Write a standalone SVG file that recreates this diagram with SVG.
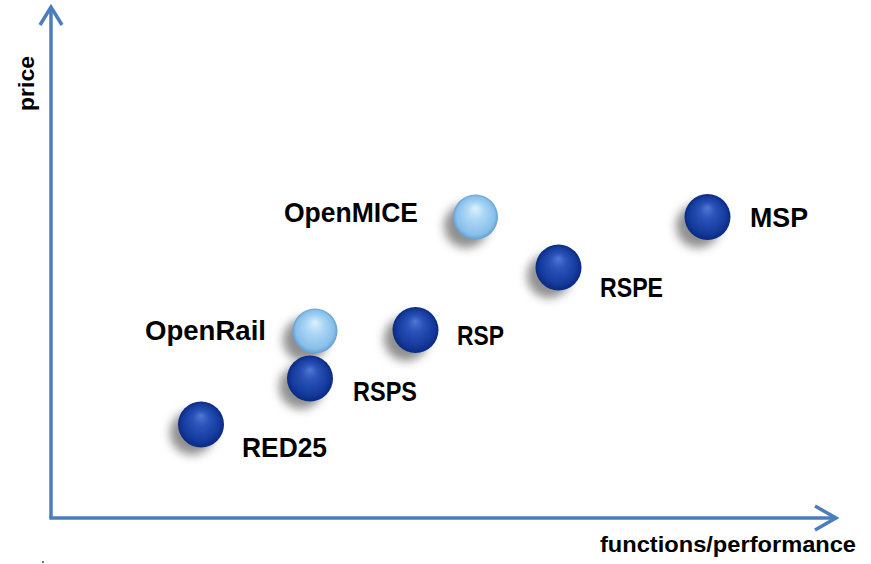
<svg xmlns="http://www.w3.org/2000/svg" width="871" height="564" viewBox="0 0 871 564">
<style>
.lbl{font-family:"Liberation Sans",Arial,sans-serif;font-weight:bold;font-size:28px;fill:#000}
.ax{fill:none;stroke:#4a7ebb;stroke-width:3.5;stroke-linecap:butt;stroke-linejoin:miter}
.axl{font-family:"Liberation Sans",Arial,sans-serif;font-weight:bold;font-size:22px;fill:#000}
.shd{fill:#6a6a6a;opacity:0.75;filter:url(#blur)}
.dark{fill:url(#gDark)}
.light{fill:url(#gLight)}
</style>
<defs>
<radialGradient id="gDark" cx="0.5" cy="0.5" r="0.5" fx="0.5" fy="0.3">
<stop offset="0" stop-color="#5078d4"/>
<stop offset="0.35" stop-color="#2a52b8"/>
<stop offset="0.8" stop-color="#143a9c"/>
<stop offset="1" stop-color="#0a2a82"/>
</radialGradient>
<radialGradient id="gLight" cx="0.5" cy="0.5" r="0.5" fx="0.5" fy="0.3">
<stop offset="0" stop-color="#dcf0ff"/>
<stop offset="0.4" stop-color="#acd6f5"/>
<stop offset="0.85" stop-color="#88bfea"/>
<stop offset="1" stop-color="#649fd4"/>
</radialGradient>
<filter id="blur" x="-50%" y="-50%" width="200%" height="200%">
<feGaussianBlur stdDeviation="5"/>
</filter>
</defs>

<g id="axes">
<polyline class="ax" points="51,518 51,7"/>
<polyline class="ax" points="40,25 51,7 62,25"/>
<polyline class="ax" points="49.3,518 836,518"/>
<polyline class="ax" points="815,506 836,518 815,530"/>
<text class="axl" transform="translate(34,111) rotate(-90)" textLength="55" lengthAdjust="spacingAndGlyphs">price</text>
<text class="axl" x="600" y="552" textLength="256" lengthAdjust="spacingAndGlyphs">functions/performance</text>
<rect x="42" y="561" width="2" height="2" fill="#4a7ebb"/>
</g>

<g id="OpenMICE">
<circle class="shd" cx="466" cy="226" r="22"/>
<circle class="light" cx="475.5" cy="217" r="22.5"/>
<text class="lbl" x="284" y="222" textLength="134" lengthAdjust="spacingAndGlyphs">OpenMICE</text>
</g>

<g id="MSP">
<circle class="shd" cx="698" cy="226" r="22"/>
<circle class="dark" cx="707.5" cy="217" r="23"/>
<text class="lbl" x="750" y="227" textLength="58" lengthAdjust="spacingAndGlyphs">MSP</text>
</g>

<g id="RSPE">
<circle class="shd" cx="549" cy="276" r="22"/>
<circle class="dark" cx="558.5" cy="267.5" r="23"/>
<text class="lbl" x="600" y="297" textLength="63" lengthAdjust="spacingAndGlyphs">RSPE</text>
</g>

<g id="RSP">
<circle class="shd" cx="406" cy="339" r="22"/>
<circle class="dark" cx="415.5" cy="330" r="23"/>
<text class="lbl" x="457" y="345" textLength="47" lengthAdjust="spacingAndGlyphs">RSP</text>
</g>

<g id="OpenRail">
<circle class="shd" cx="305" cy="340" r="22"/>
<circle class="light" cx="315" cy="331" r="22.5"/>
<text class="lbl" x="145" y="340" textLength="121" lengthAdjust="spacingAndGlyphs">OpenRail</text>
</g>

<g id="RSPS">
<circle class="shd" cx="301" cy="387" r="22"/>
<circle class="dark" cx="310" cy="378.5" r="23"/>
<text class="lbl" x="353" y="401" textLength="64" lengthAdjust="spacingAndGlyphs">RSPS</text>
</g>

<g id="RED25">
<circle class="shd" cx="192" cy="433" r="22"/>
<circle class="dark" cx="201" cy="424.5" r="23"/>
<text class="lbl" x="242" y="457" textLength="85" lengthAdjust="spacingAndGlyphs">RED25</text>
</g>
</svg>
